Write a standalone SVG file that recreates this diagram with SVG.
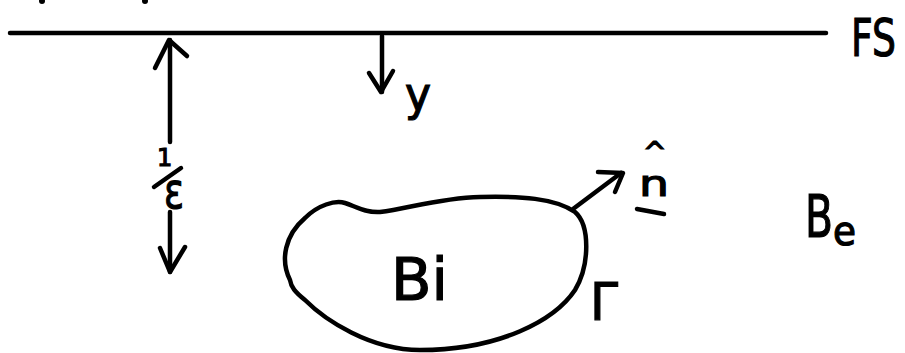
<svg xmlns="http://www.w3.org/2000/svg" width="905" height="353" viewBox="0 0 905 353">
<style>
.ln{fill:none;stroke:#000;stroke-width:4.5;stroke-linecap:round;stroke-linejoin:round}
.tx{font-family:"DejaVu Sans","Liberation Sans",sans-serif;fill:#000;stroke:#000;stroke-width:1.2}
</style>
<rect width="905" height="353" fill="#fff"/>
<g id="marks">
<circle cx="42" cy="1" r="3" fill="#000"/>
<circle cx="145" cy="1" r="3" fill="#000"/>
</g>
<g id="free-surface">
<line class="ln" x1="10" y1="33" x2="826" y2="33"/>
<text class="tx" x="851" y="56" font-size="52" textLength="45" lengthAdjust="spacingAndGlyphs">FS</text>
</g>
<g id="connectors">
<g id="depth-arrow-up">
<line class="ln" x1="170" y1="40" x2="170" y2="142"/>
<polyline class="ln" points="155,68 169,40 187,56"/>
</g>
<g id="depth-arrow-down">
<line class="ln" x1="170" y1="212" x2="170" y2="272"/>
<polyline class="ln" points="160,248 170,272 185,247"/>
</g>
<g id="y-arrow">
<line class="ln" x1="382" y1="36" x2="382" y2="92"/>
<polyline class="ln" points="369,73 381,92 393,71"/>
</g>
<g id="normal-arrow">
<line class="ln" x1="573" y1="209" x2="621" y2="173"/>
<polyline class="ln" points="598,172 623,173 615,192"/>
</g>
</g>
<g id="depth-label">
<text class="tx" x="157" y="166" font-size="24">1</text>
<line class="ln" x1="154" y1="187" x2="181" y2="168" stroke-width="4"/>
<text class="tx" x="164" y="208" font-size="50" textLength="20" lengthAdjust="spacingAndGlyphs">ε</text>
</g>
<g id="y-label">
<text class="tx" x="405" y="110" font-size="46" textLength="26" lengthAdjust="spacingAndGlyphs">y</text>
</g>
<g id="body-Bi">
<path class="ln" d="M290 280 C280 260 285 235 305 218 C318 205 335 200 345 203 C355 206 365 213 380 212 C410 208 440 198 480 197 C520 196 555 198 575 212 C590 225 590 265 575 290 C555 320 500 350 420 350 C370 350 325 320 305 300 C295 292 291 287 290 280 Z"/>
<text class="tx" x="391" y="300" font-size="58" textLength="57" lengthAdjust="spacingAndGlyphs">Bi</text>
<text class="tx" x="590" y="320" font-size="52" textLength="28" lengthAdjust="spacingAndGlyphs">Γ</text>
</g>
<g id="normal-label">
<text class="tx" x="643" y="162" font-size="28">^</text>
<text class="tx" x="639" y="196" font-size="36" textLength="30" lengthAdjust="spacingAndGlyphs">n</text>
<line class="ln" x1="637" y1="209" x2="664" y2="214"/>
</g>
<g id="exterior-Be">
<text class="tx" x="805" y="237" font-size="58" textLength="28" lengthAdjust="spacingAndGlyphs">B</text>
<text class="tx" x="833" y="245" font-size="40" textLength="23" lengthAdjust="spacingAndGlyphs">e</text>
</g>
</svg>
